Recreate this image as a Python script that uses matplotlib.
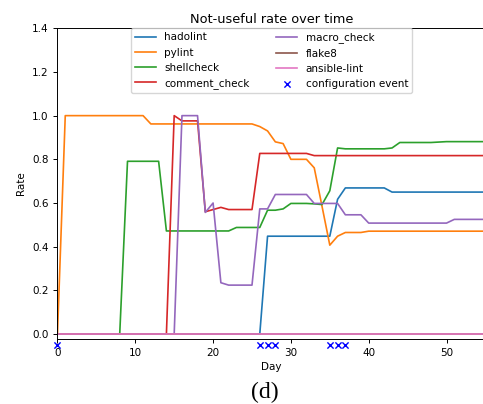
import matplotlib
matplotlib.use("Agg")
import matplotlib.pyplot as plt

# day index for every series
days = list(range(0, 56))

hadolint = [0.0, 0.0, 0.0, 0.0, 0.0, 0.0, 0.0, 0.0, 0.0, 0.0,
            0.0, 0.0, 0.0, 0.0, 0.0, 0.0, 0.0, 0.0, 0.0, 0.0,
            0.0, 0.0, 0.0, 0.0, 0.0, 0.0, 0.0, 0.448, 0.448, 0.448,
            0.448, 0.448, 0.448, 0.448, 0.448, 0.448, 0.617, 0.669, 0.669, 0.669,
            0.669, 0.669, 0.669, 0.65, 0.65, 0.65, 0.65, 0.65, 0.65, 0.65,
            0.65, 0.65, 0.65, 0.65, 0.65, 0.65]
pylint = [0.0, 1.0, 1.0, 1.0, 1.0, 1.0, 1.0, 1.0, 1.0, 1.0,
          1.0, 1.0, 0.962, 0.962, 0.962, 0.962, 0.962, 0.962, 0.962, 0.962,
          0.962, 0.962, 0.962, 0.962, 0.962, 0.962, 0.95, 0.93, 0.88, 0.872,
          0.80, 0.80, 0.80, 0.761, 0.585, 0.407, 0.448, 0.465, 0.465, 0.465,
          0.471, 0.471, 0.471, 0.471, 0.471, 0.471, 0.471, 0.471, 0.471, 0.471,
          0.471, 0.471, 0.471, 0.471, 0.471, 0.471]
shellcheck = [0.0, 0.0, 0.0, 0.0, 0.0, 0.0, 0.0, 0.0, 0.0, 0.791,
              0.791, 0.791, 0.791, 0.791, 0.472, 0.472, 0.472, 0.472, 0.472, 0.472,
              0.472, 0.472, 0.472, 0.488, 0.488, 0.488, 0.488, 0.567, 0.567, 0.573,
              0.598, 0.598, 0.598, 0.596, 0.593, 0.656, 0.852, 0.848, 0.848, 0.848,
              0.848, 0.848, 0.848, 0.852, 0.877, 0.877, 0.877, 0.877, 0.877, 0.879,
              0.881, 0.881, 0.881, 0.881, 0.881, 0.881]
comment_check = [0.0, 0.0, 0.0, 0.0, 0.0, 0.0, 0.0, 0.0, 0.0, 0.0,
                 0.0, 0.0, 0.0, 0.0, 0.0, 1.0, 0.976, 0.976, 0.976, 0.56,
                 0.57, 0.58, 0.57, 0.57, 0.57, 0.57, 0.827, 0.827, 0.827, 0.827,
                 0.827, 0.827, 0.827, 0.817, 0.817, 0.817, 0.817, 0.817, 0.817, 0.817,
                 0.817, 0.817, 0.817, 0.817, 0.817, 0.817, 0.817, 0.817, 0.817, 0.817,
                 0.817, 0.817, 0.817, 0.817, 0.817, 0.817]
macro_check = [0.0, 0.0, 0.0, 0.0, 0.0, 0.0, 0.0, 0.0, 0.0, 0.0,
               0.0, 0.0, 0.0, 0.0, 0.0, 0.0, 1.0, 1.0, 1.0, 0.557,
               0.60, 0.235, 0.224, 0.224, 0.224, 0.224, 0.573, 0.573, 0.639, 0.639,
               0.639, 0.639, 0.639, 0.598, 0.598, 0.598, 0.598, 0.546, 0.546, 0.546,
               0.508, 0.508, 0.508, 0.508, 0.508, 0.508, 0.508, 0.508, 0.508, 0.508,
               0.508, 0.525, 0.525, 0.525, 0.525, 0.525]
flake8 = [0.0, 0.0, 0.0, 0.0, 0.0, 0.0, 0.0, 0.0, 0.0, 0.0,
          0.0, 0.0, 0.0, 0.0, 0.0, 0.0, 0.0, 0.0, 0.0, 0.0,
          0.0, 0.0, 0.0, 0.0, 0.0, 0.0, 0.0, 0.0, 0.0, 0.0,
          0.0, 0.0, 0.0, 0.0, 0.0, 0.0, 0.0, 0.0, 0.0, 0.0,
          0.0, 0.0, 0.0, 0.0, 0.0, 0.0, 0.0, 0.0, 0.0, 0.0,
          0.0, 0.0, 0.0, 0.0, 0.0, 0.0]
ansible_lint = [0.0, 0.0, 0.0, 0.0, 0.0, 0.0, 0.0, 0.0, 0.0, 0.0,
                0.0, 0.0, 0.0, 0.0, 0.0, 0.0, 0.0, 0.0, 0.0, 0.0,
                0.0, 0.0, 0.0, 0.0, 0.0, 0.0, 0.0, 0.0, 0.0, 0.0,
                0.0, 0.0, 0.0, 0.0, 0.0, 0.0, 0.0, 0.0, 0.0, 0.0,
                0.0, 0.0, 0.0, 0.0, 0.0, 0.0, 0.0, 0.0, 0.0, 0.0,
                0.0, 0.0, 0.0, 0.0, 0.0, 0.0]

# days on which the configuration changed
config_days = [0, 26, 27, 28, 35, 36, 37]
config_y = [-0.05, -0.05, -0.05, -0.05, -0.05, -0.05, -0.05]

series = [
    ('hadolint', hadolint),
    ('pylint', pylint),
    ('shellcheck', shellcheck),
    ('comment_check', comment_check),
    ('macro_check', macro_check),
    ('flake8', flake8),
    ('ansible-lint', ansible_lint),
]

fig = plt.figure(figsize=(4.83, 4.04), dpi=100)
ax = fig.add_axes([0.119, 0.161, 0.886, 0.769])

for name, vals in series:
    ax.plot(days, vals, linewidth=1.2, label=name)

ax.scatter(config_days, config_y, marker='x', color='blue', s=20,
           linewidths=1.0, label='configuration event', clip_on=False, zorder=5)

ax.set_xlim(0, 55)
ax.set_ylim(-0.0225, 1.4)
ax.set_xticks([0, 10, 20, 30, 40, 50])
ax.set_yticks([0.0, 0.2, 0.4, 0.6, 0.8, 1.0, 1.2, 1.4])
ax.tick_params(labelsize=7.5, length=3, width=0.7)
for s in ax.spines.values():
    s.set_linewidth(0.7)

ax.set_xlabel('Day', fontsize=7.5, labelpad=3)
ax.set_ylabel('Rate', fontsize=7.5)
ax.set_title('Not-useful rate over time', fontsize=9.3, pad=4)

ax.legend(loc='upper center', bbox_to_anchor=(0.5, 1.0), borderaxespad=0,
          ncol=2, fontsize=7.5, scatterpoints=1, columnspacing=2.6)

fig.text(0.549, 0.028, '(d)', fontsize=17, family='Liberation Serif',
         ha='center', va='center')

plt.savefig('out.png', dpi=100)
